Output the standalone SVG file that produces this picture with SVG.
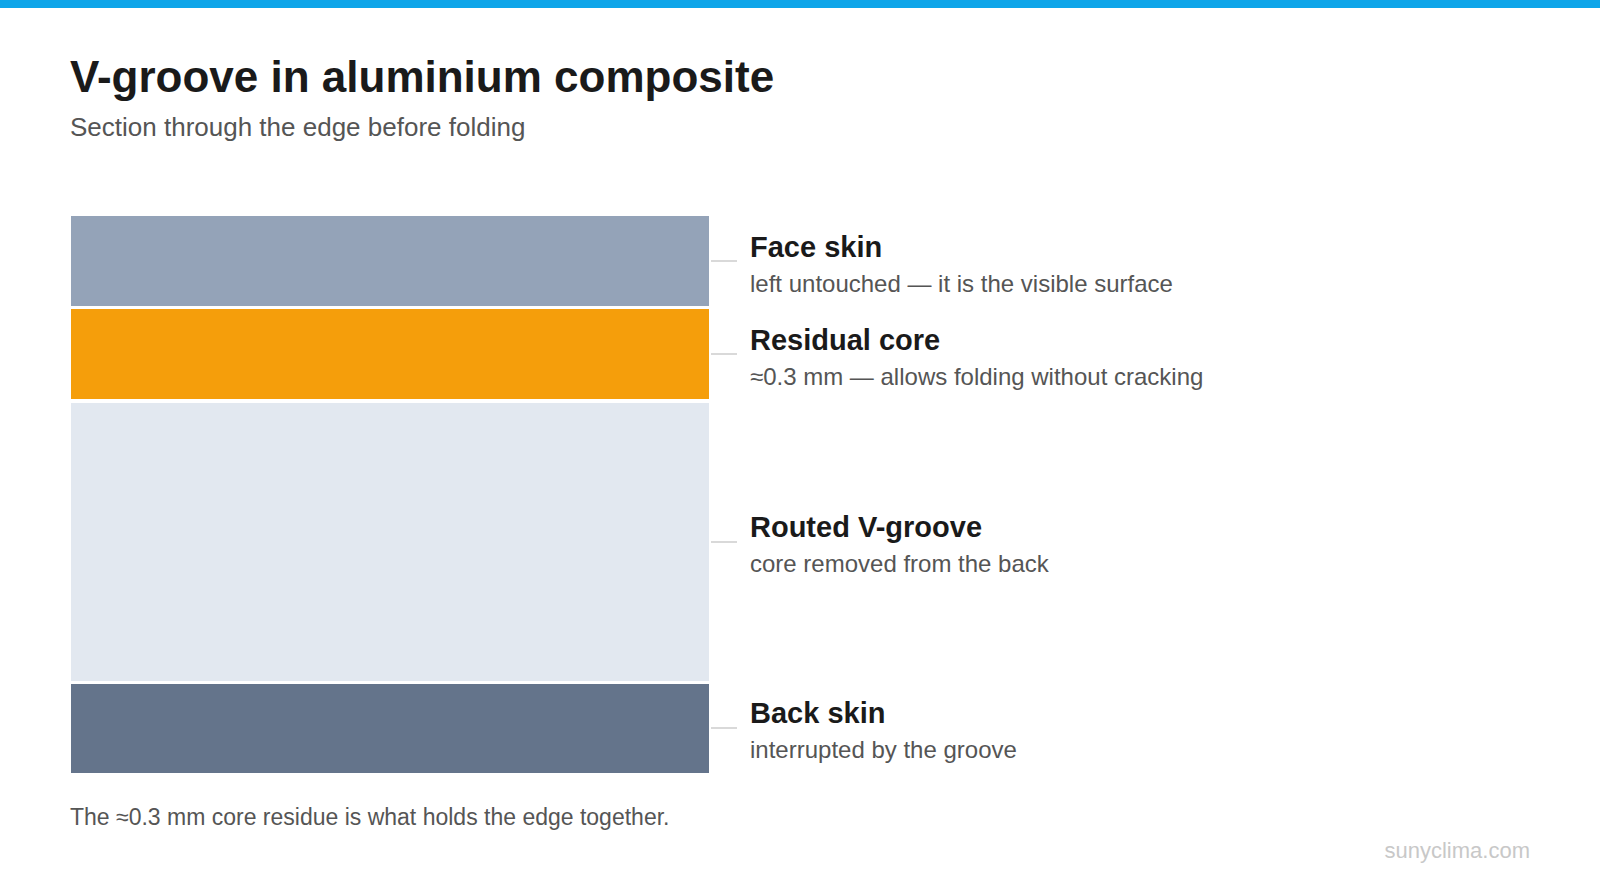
<svg xmlns="http://www.w3.org/2000/svg" width="1600" height="895" viewBox="0 0 1600 895">
<style>
.title{font-family:"Liberation Sans",Arial,sans-serif;font-weight:bold;font-size:44px;fill:#1a1a1a}
.sub{font-family:"Liberation Sans",Arial,sans-serif;font-size:26px;fill:#555}
.lab{font-family:"Liberation Sans",Arial,sans-serif;font-weight:bold;font-size:29px;fill:#1a1a1a}
.desc{font-family:"Liberation Sans",Arial,sans-serif;font-size:24px;fill:#555}
.lead{stroke:#cccccc;stroke-width:1.5;fill:none}
.foot{font-family:"Liberation Sans",Arial,sans-serif;font-size:23px;fill:#555}
.brand{font-family:"Liberation Sans",Arial,sans-serif;font-size:22px;fill:#c8c8c8}
</style>
<rect width="1600" height="895" fill="#ffffff"/>
<rect x="0" y="0" width="1600" height="8" fill="#0EA5E9"/>
<text class="title" x="70" y="92">V-groove in aluminium composite</text>
<text class="sub" x="70" y="136">Section through the edge before folding</text>
<g id="face-skin">
<rect x="71" y="216" width="638" height="90" fill="#94A3B8"/>
<text class="lab" x="750" y="257">Face skin</text>
<text class="desc" x="750" y="292">left untouched — it is the visible surface</text>
</g>
<g id="residual-core">
<rect x="71" y="309" width="638" height="90" fill="#F59E0B"/>
<text class="lab" x="750" y="350">Residual core</text>
<text class="desc" x="750" y="385">≈0.3 mm — allows folding without cracking</text>
</g>
<g id="routed-groove">
<rect x="71" y="403" width="638" height="278" fill="#E2E8F0"/>
<text class="lab" x="750" y="537">Routed V-groove</text>
<text class="desc" x="750" y="572">core removed from the back</text>
</g>
<g id="back-skin">
<rect x="71" y="684" width="638" height="89" fill="#64748B"/>
<text class="lab" x="750" y="723">Back skin</text>
<text class="desc" x="750" y="758">interrupted by the groove</text>
</g>
<g id="connectors">
<line class="lead" x1="711" y1="261" x2="737" y2="261"/>
<line class="lead" x1="711" y1="354" x2="737" y2="354"/>
<line class="lead" x1="711" y1="542" x2="737" y2="542"/>
<line class="lead" x1="711" y1="728" x2="737" y2="728"/>
</g>
<text class="foot" x="70" y="825">The ≈0.3 mm core residue is what holds the edge together.</text>
<text class="brand" x="1530" y="858" text-anchor="end">sunyclima.com</text>
</svg>
